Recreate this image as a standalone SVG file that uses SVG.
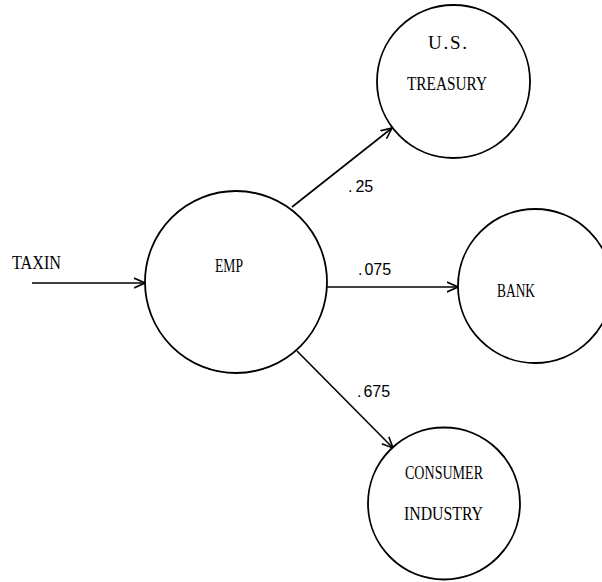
<svg xmlns="http://www.w3.org/2000/svg" width="602" height="582" viewBox="0 0 602 582">
<defs>
<marker id="arr" viewBox="0 0 12 12" refX="11" refY="6" markerWidth="12" markerHeight="12" markerUnits="userSpaceOnUse" orient="auto">
<path d="M0,1 L11,6 L0,11" fill="none" stroke="#000" stroke-width="1.6"/>
</marker>
<style>
.node circle{fill:#fff;stroke:#000;stroke-width:1.8}
.lbl{font-family:"Liberation Serif","DejaVu Serif",serif;font-size:19px;fill:#000}
.num{font-family:"Liberation Sans","DejaVu Sans",sans-serif;font-size:16px;fill:#000}
.edge{stroke:#000;stroke-width:1.6;fill:none;marker-end:url(#arr)}
</style>
</defs>
<rect width="602" height="582" fill="#fff"/>
<g id="connectors">
<line class="edge" x1="32" y1="283" x2="145" y2="283"/>
<line class="edge" x1="292" y1="207" x2="392" y2="128"/>
<line class="edge" x1="327" y1="287" x2="458" y2="287"/>
<line class="edge" x1="297" y1="351" x2="393" y2="448"/>
<text class="lbl" x="12" y="269" textLength="49" lengthAdjust="spacingAndGlyphs">TAXIN</text>
<text class="num" x="348" y="192">.<tspan dx="3">25</tspan></text>
<text class="num" x="358" y="275">.<tspan dx="2">075</tspan></text>
<text class="num" x="357" y="397">.<tspan dx="2">675</tspan></text>
</g>
<g id="emp" class="node">
<circle cx="236" cy="282" r="91"/>
<text class="lbl" x="215" y="272" textLength="28" lengthAdjust="spacingAndGlyphs">EMP</text>
</g>
<g id="treasury" class="node">
<circle cx="453.5" cy="81.5" r="76.5"/>
<text class="lbl" x="428" y="49" textLength="39" lengthAdjust="spacing">U.S.</text>
<text class="lbl" x="407" y="90" textLength="80" lengthAdjust="spacingAndGlyphs">TREASURY</text>
</g>
<g id="bank" class="node">
<circle cx="535" cy="286" r="77"/>
<text class="lbl" x="497" y="297" textLength="38" lengthAdjust="spacingAndGlyphs">BANK</text>
</g>
<g id="consumer" class="node">
<circle cx="444" cy="503.5" r="76"/>
<text class="lbl" x="405" y="479" textLength="78" lengthAdjust="spacingAndGlyphs">CONSUMER</text>
<text class="lbl" x="404" y="520" textLength="79" lengthAdjust="spacingAndGlyphs">INDUSTRY</text>
</g>
</svg>
